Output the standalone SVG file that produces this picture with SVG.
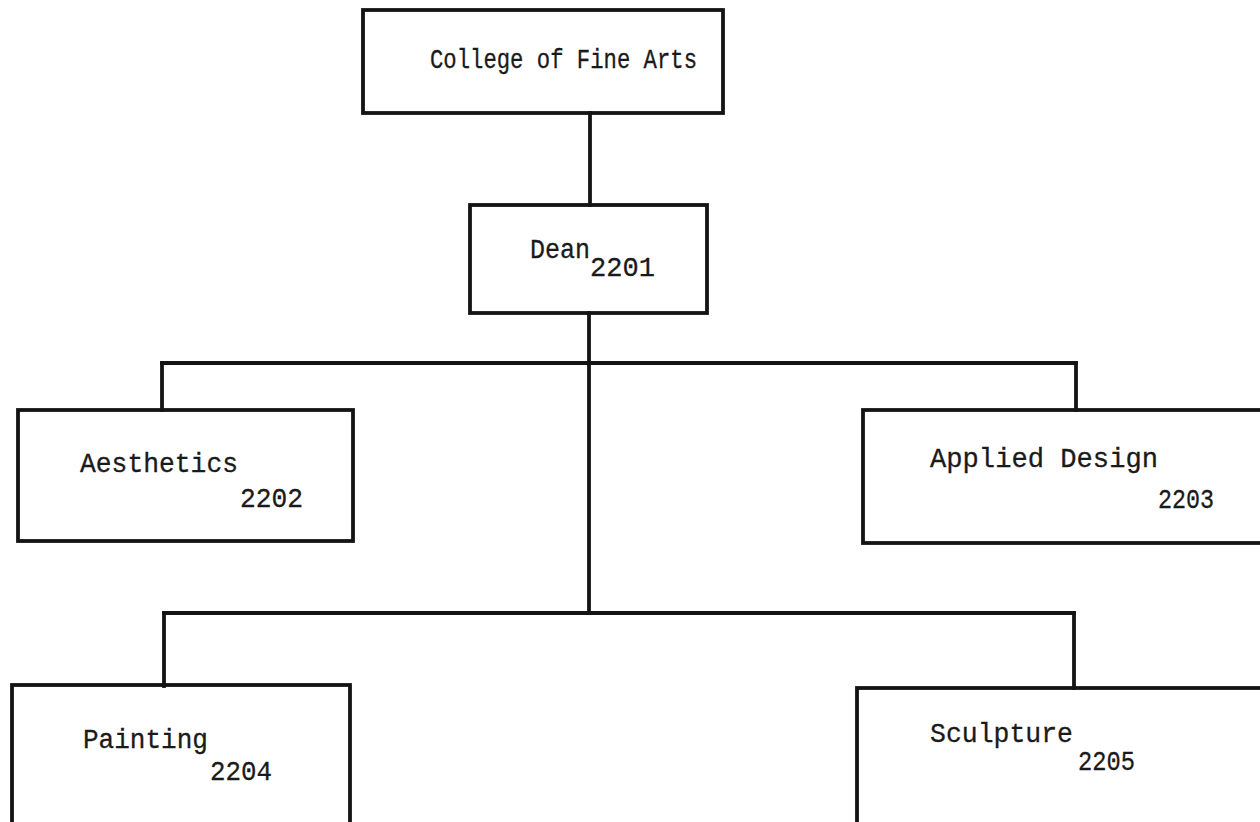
<svg xmlns="http://www.w3.org/2000/svg" width="1260" height="822" viewBox="0 0 1260 822">
  <style>
    .box { fill: none; stroke: #141414; stroke-width: 3.8; stroke-linecap: square; }
    .wire { fill: none; stroke: #141414; stroke-width: 3.8; stroke-linecap: square; }
    .lbl { font-family: "Liberation Mono", "Courier New", monospace; fill: #1a1a1a; font-size: 27px; stroke: #1a1a1a; stroke-width: 0.3; }
    .num { font-family: "Liberation Mono", "Courier New", monospace; fill: #1a1a1a; font-size: 28px; stroke: #1a1a1a; stroke-width: 0.3; }
  </style>
  <rect x="0" y="0" width="1260" height="822" fill="#ffffff"/>

  <!-- connector lines -->
  <g id="connectors">
    <path class="wire" d="M590 113 V205"/>
    <path class="wire" d="M589 313 V613"/>
    <path class="wire" d="M162 363 H1076"/>
    <path class="wire" d="M162 363 V410"/>
    <path class="wire" d="M1076 363 V410"/>
    <path class="wire" d="M164 613 H1074"/>
    <path class="wire" d="M164 613 V686"/>
    <path class="wire" d="M1074 613 V688"/>
  </g>

  <g id="college">
    <rect class="box" x="363" y="10" width="360" height="103"/>
    <text class="lbl" x="430" y="68" font-size="24" textLength="267" lengthAdjust="spacingAndGlyphs">College of Fine Arts</text>
  </g>

  <g id="dean">
    <rect class="box" x="470" y="205" width="237" height="108"/>
    <text class="lbl" x="530" y="258" font-size="25" textLength="60" lengthAdjust="spacingAndGlyphs">Dean</text>
    <text class="num" x="590" y="276" textLength="65" lengthAdjust="spacingAndGlyphs">2201</text>
  </g>

  <g id="aesthetics">
    <rect class="box" x="18" y="410" width="335" height="131"/>
    <text class="lbl" x="80" y="472" textLength="158" lengthAdjust="spacingAndGlyphs">Aesthetics</text>
    <text class="num" x="240" y="507" textLength="63" lengthAdjust="spacingAndGlyphs">2202</text>
  </g>

  <g id="applied-design">
    <rect class="box" x="863" y="410" width="410" height="133"/>
    <text class="lbl" x="930" y="467" textLength="228" lengthAdjust="spacingAndGlyphs">Applied Design</text>
    <text class="num" x="1158" y="508" textLength="56" lengthAdjust="spacingAndGlyphs">2203</text>
  </g>

  <g id="painting">
    <rect class="box" x="12" y="685" width="338" height="160"/>
    <text class="lbl" x="83" y="748" textLength="125" lengthAdjust="spacingAndGlyphs">Painting</text>
    <text class="num" x="210" y="780" textLength="62" lengthAdjust="spacingAndGlyphs">2204</text>
  </g>

  <g id="sculpture">
    <rect class="box" x="857" y="688" width="420" height="160"/>
    <text class="lbl" x="930" y="742" textLength="143" lengthAdjust="spacingAndGlyphs">Sculpture</text>
    <text class="num" x="1078" y="770" textLength="57" lengthAdjust="spacingAndGlyphs">2205</text>
  </g>
</svg>
